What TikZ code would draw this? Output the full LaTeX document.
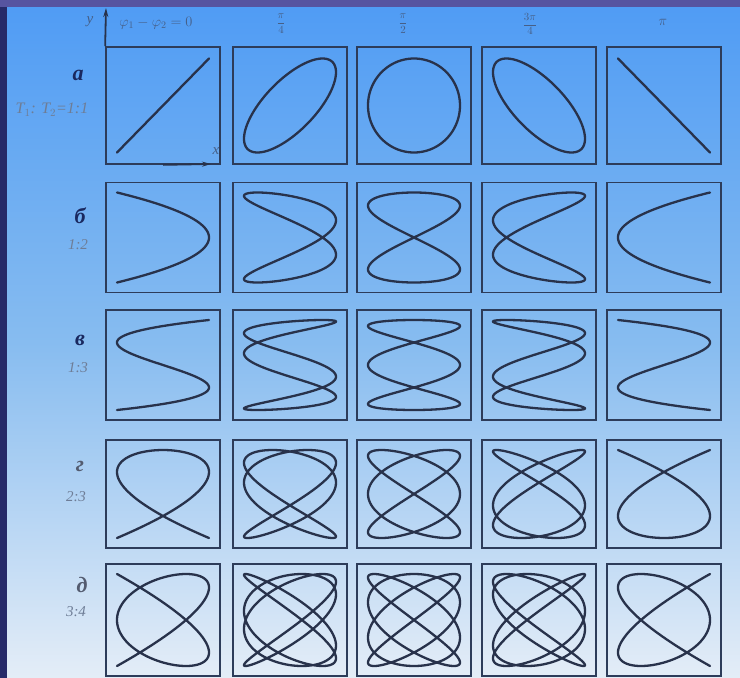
\documentclass[tikz,border=0pt]{standalone}
\usepackage{fontspec}
\setmainfont{Liberation Serif}
\usetikzlibrary{arrows.meta}

\begin{document}
\begin{tikzpicture}[
  x=1pt, y=-1pt,
  >=Stealth,
  panel/.style={draw=boxline, line width=1.7pt, minimum width=114pt, inner sep=0pt},
  curve/.style={draw=trace, line width=2.3pt, line join=round, line cap=round},
  axisline/.style={line width=1.8pt, draw=trace, -{Stealth[length=9pt, width=5pt]}},
  letter/.style={font=\fontsize{22}{22}\selectfont\bfseries\itshape, text=navy},
  ratio/.style={font=\fontsize{15}{15}\selectfont\itshape, text=ratiogray},
  phase/.style={font=\fontsize{14}{14}\selectfont, text=headgray}
]

\definecolor{edgedark}{RGB}{38,42,105}
\definecolor{edgetop}{RGB}{86,84,160}
\definecolor{sky}{RGB}{80,156,244}
\definecolor{midsky}{RGB}{135,188,240}
\definecolor{mist}{RGB}{228,237,247}
\definecolor{boxline}{RGB}{45,60,90}
\definecolor{trace}{RGB}{40,50,75}
\definecolor{navy}{RGB}{25,40,95}
\definecolor{ratiogray}{RGB}{110,125,150}
\definecolor{headgray}{RGB}{70,95,135}

\useasboundingbox (0,0) rectangle (740,678);
\fill[edgedark] (0,0) rectangle (740,678);
\fill[edgetop] (0,0) rectangle (740,7);
\shade[top color=sky, bottom color=mist, middle color=midsky] (7,7) rectangle (740,678);

% row a, 1:1
\foreach \c/\cx/\ph in {1/163/0,2/290/45,3/414/90,4/539/135,5/664/180}{
  \node[panel, minimum height=117pt] (a\c) at (\cx,105.5) {};
  \draw[curve, shift={(a\c.center)}] plot[domain=0:360, samples=121]
    ({46*cos(\x)}, {-47*cos(\x+\ph)});
}
% row b, 1:2
\foreach \c/\cx/\ph in {1/163/0,2/290/45,3/414/90,4/539/135,5/664/180}{
  \node[panel, minimum height=110pt] (b\c) at (\cx,237.5) {};
  \draw[curve, shift={(b\c.center)}] plot[domain=0:360, samples=181]
    ({46*cos(2*\x+\ph)}, {-45*sin(\x)});
}
% row v, 1:3
\foreach \c/\cx/\ph in {1/163/0,2/290/45,3/414/90,4/539/135,5/664/180}{
  \node[panel, minimum height=110pt] (v\c) at (\cx,365) {};
  \draw[curve, shift={(v\c.center)}] plot[domain=0:360, samples=241]
    ({-46*sin(3*\x+\ph)}, {-45*sin(\x)});
}
% row g, 2:3 (phase on y, a third of the step)
\foreach \c/\cx/\ph in {1/163/0,2/290/15,3/414/30,4/539/45,5/664/60}{
  \node[panel, minimum height=108pt] (g\c) at (\cx,494) {};
  \draw[curve, shift={(g\c.center)}] plot[domain=0:360, samples=241]
    ({46*cos(3*\x)}, {44*cos(2*\x+\ph)});
}
% row d, 3:4
\foreach \c/\cx/\ph in {1/163/0,2/290/15,3/414/30,4/539/45,5/664/60}{
  \node[panel, minimum height=112pt] (d\c) at (\cx,620) {};
  \draw[curve, shift={(d\c.center)}] plot[domain=0:360, samples=361]
    ({-46*cos(4*\x+\ph)}, {-46*cos(3*\x)});
}

% axes on the first box
\coordinate (ytip) at (106,8);
\coordinate (xtip) at (211,164);
\draw[axisline] (a1.north west) -- (ytip);
\draw[axisline] (a1.south) -- (xtip);
\node[phase, font=\fontsize{15}{15}\selectfont\itshape] (ylab) at (90,22) {y};
\node[phase, font=\fontsize{15}{15}\selectfont\itshape] (xlab) at (216,151) {x};

\node[phase] (ph1) at (156,23) {$\varphi_1-\varphi_2=0$};
\node[phase, font=\fontsize{11}{11}\selectfont] (ph2) at (281,24) {$\displaystyle\frac{\pi}{4}$};
\node[phase, font=\fontsize{11}{11}\selectfont] (ph3) at (403,24) {$\displaystyle\frac{\pi}{2}$};
\node[phase, font=\fontsize{11}{11}\selectfont] (ph4) at (530,24) {$\displaystyle\frac{3\pi}{4}$};
\node[phase] (ph5) at (663,22) {$\pi$};

\node[letter] (la) at (78,75) {а};
\node[ratio, font=\fontsize{16}{16}\selectfont\itshape] (ra) at (52,110) {T$_1$: T$_2$=1:1};
\node[letter] (lb) at (80,216) {б};
\node[ratio] (rb) at (78,245) {1:2};
\node[letter] (lv) at (80,340) {в};
\node[ratio] (rv) at (78,368) {1:3};
\node[letter, text=trace!80] (lg) at (80,466) {г};
\node[ratio] (rg) at (76,497) {2:3};
\node[letter, text=trace!80] (ld) at (82,585) {д};
\node[ratio] (rd) at (76,612) {3:4};

\end{tikzpicture}
\end{document}
